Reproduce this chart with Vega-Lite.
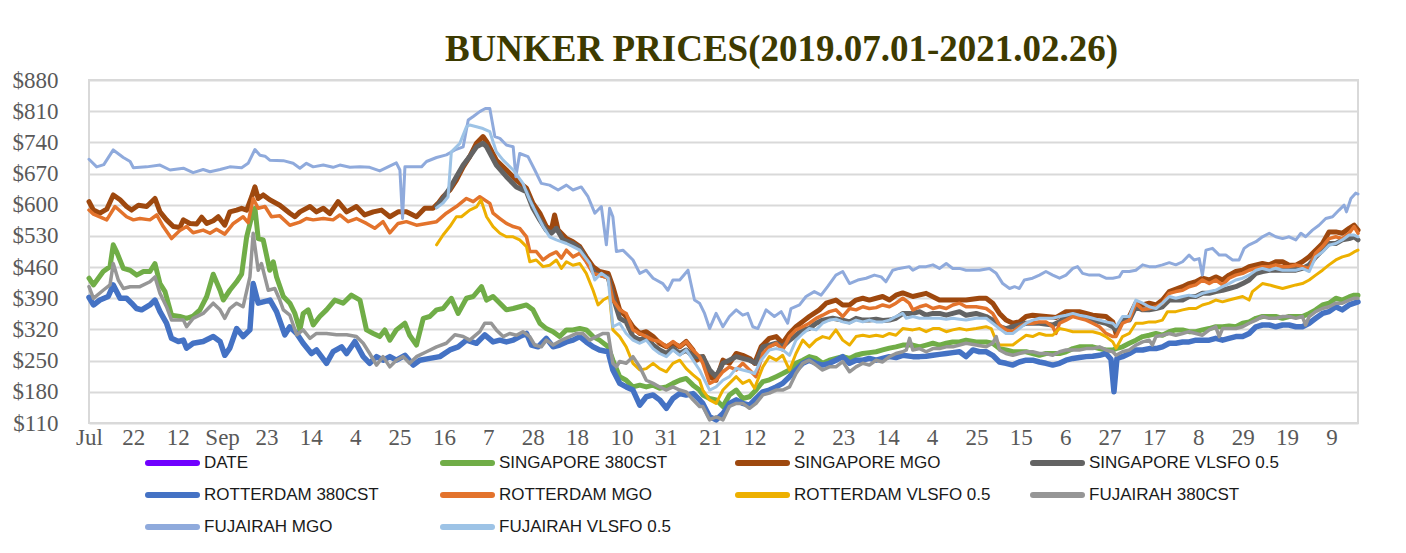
{
"$schema":"https://vega.github.io/schema/vega-lite/v6.json",
"width":1269,"height":343,
"autosize":{"type":"none"},
"padding":{"left":89,"top":80,"right":48,"bottom":130},
"background":"white",
"title":{"text":"BUNKER PRICES(2019.07.01-2021.02.26)","font":"Liberation Serif","fontSize":37,"fontWeight":"bold","color":"#3d3a00","anchor":"middle","frame":"group","dx":58,"dy":47,"offset":18,"baseline":"alphabetic"},
"config":{"view":{"stroke":"#d9d9d9","strokeWidth":2},"axis":{"labelFont":"Liberation Serif","labelFontSize":23,"labelColor":"#595959","ticks":false,"domain":false,"title":null}},
"encoding":{
"x":{"field":"i","type":"quantitative","scale":{"domain":[0,429],"nice":false,"zero":false},"axis":{"grid":false,"values":[0,15,30,45,60,75,90,105,120,135,150,165,180,195,210,225,240,255,270,285,300,315,330,345,360,375,390,405,420],"labelExpr":"['Jul','22','12','Sep','23','14','4','25','16','7','28','18','10','31','21','12','2','23','14','4','25','15','6','27','17','8','29','19','9'][round(datum.value/15)]","labelOverlap":false,"labelFlush":false,"labelPadding":3}},
"y":{"field":"v","type":"quantitative","scale":{"domain":[110,880],"nice":false,"zero":false},"axis":{"grid":true,"gridColor":"#d9d9d9","gridWidth":2,"values":[110,180,250,320,390,460,530,600,670,740,810,880],"labelExpr":"'$' + datum.value","labelPadding":31}}
},
"layer":[
{"data":{"values":[{"i":0,"v":435},{"i":1.5,"v":420},{"i":4.8,"v":450},{"i":7.1,"v":461},{"i":8.2,"v":510},{"i":9.3,"v":495},{"i":11.6,"v":457},{"i":13.9,"v":453},{"i":16.1,"v":442},{"i":18.4,"v":450},{"i":20.6,"v":450},{"i":22.3,"v":468},{"i":24,"v":423},{"i":25.7,"v":405},{"i":27.9,"v":352},{"i":30.7,"v":349},{"i":33,"v":345},{"i":35.2,"v":350},{"i":37.5,"v":364},{"i":39.8,"v":394},{"i":42,"v":444},{"i":44.3,"v":408},{"i":45.4,"v":386},{"i":47.6,"v":408},{"i":49.9,"v":427},{"i":51.6,"v":444},{"i":53.3,"v":528},{"i":55,"v":573},{"i":56.1,"v":592},{"i":57.2,"v":524},{"i":58.9,"v":521},{"i":61.1,"v":453},{"i":62.3,"v":472},{"i":63.4,"v":438},{"i":65.7,"v":394},{"i":67.9,"v":379},{"i":69.6,"v":356},{"i":71.3,"v":319},{"i":72.4,"v":356},{"i":74.1,"v":364},{"i":75.8,"v":330},{"i":78,"v":349},{"i":80.3,"v":364},{"i":83.1,"v":386},{"i":85.9,"v":379},{"i":88.7,"v":397},{"i":91.6,"v":386},{"i":93.8,"v":319},{"i":96.1,"v":311},{"i":98.3,"v":304},{"i":100,"v":319},{"i":101.7,"v":296},{"i":103.9,"v":319},{"i":106.8,"v":334},{"i":108.4,"v":307},{"i":110.7,"v":285},{"i":113,"v":345},{"i":115.2,"v":349},{"i":117.5,"v":364},{"i":119.7,"v":367},{"i":122.5,"v":390},{"i":124.8,"v":356},{"i":127.6,"v":390},{"i":129.9,"v":394},{"i":132.7,"v":416},{"i":134.4,"v":386},{"i":136.6,"v":394},{"i":138.9,"v":379},{"i":141.1,"v":364},{"i":143.4,"v":367},{"i":145.6,"v":371},{"i":147.9,"v":375},{"i":150.1,"v":364},{"i":152.4,"v":334},{"i":154.6,"v":322},{"i":156.9,"v":315},{"i":159.1,"v":304},{"i":161.4,"v":319},{"i":163.6,"v":319},{"i":165.9,"v":322},{"i":168.1,"v":319},{"i":170.4,"v":304},{"i":172.6,"v":296},{"i":175.5,"v":281},{"i":177.1,"v":251},{"i":179.4,"v":214},{"i":181.6,"v":206},{"i":183.9,"v":191},{"i":186.2,"v":195},{"i":188.4,"v":191},{"i":190.7,"v":195},{"i":192.9,"v":188},{"i":195.2,"v":191},{"i":197.4,"v":199},{"i":199.7,"v":206},{"i":201.9,"v":210},{"i":204.2,"v":195},{"i":206.4,"v":184},{"i":207.5,"v":173},{"i":209.8,"v":165},{"i":212,"v":162},{"i":214.3,"v":147},{"i":216.5,"v":173},{"i":218.8,"v":184},{"i":221,"v":165},{"i":223.3,"v":169},{"i":225.5,"v":184},{"i":227.8,"v":203},{"i":230,"v":207},{"i":232.3,"v":214},{"i":234.5,"v":221},{"i":236.8,"v":229},{"i":239,"v":244},{"i":241.3,"v":251},{"i":243.5,"v":259},{"i":245.8,"v":255},{"i":248,"v":244},{"i":250.3,"v":251},{"i":252.5,"v":255},{"i":254.8,"v":259},{"i":257.1,"v":255},{"i":259.3,"v":262},{"i":261.6,"v":266},{"i":263.8,"v":268},{"i":266.1,"v":270},{"i":268.3,"v":274},{"i":270.6,"v":278},{"i":272.8,"v":281},{"i":275.1,"v":285},{"i":278.5,"v":285},{"i":280.8,"v":281},{"i":283,"v":285},{"i":285.3,"v":289},{"i":287.5,"v":285},{"i":289.8,"v":289},{"i":292,"v":292},{"i":294.3,"v":292},{"i":296.5,"v":296},{"i":299.9,"v":292},{"i":303.3,"v":292},{"i":305.5,"v":289},{"i":307.8,"v":277},{"i":310,"v":274},{"i":312.3,"v":270},{"i":316.8,"v":270},{"i":319,"v":266},{"i":321.3,"v":262},{"i":323.5,"v":266},{"i":328.1,"v":266},{"i":330.3,"v":270},{"i":332.6,"v":277},{"i":334.8,"v":281},{"i":339.3,"v":281},{"i":341.6,"v":277},{"i":343.8,"v":274},{"i":346.1,"v":274},{"i":347.2,"v":277},{"i":349.4,"v":281},{"i":351.7,"v":289},{"i":353.9,"v":296},{"i":356.2,"v":304},{"i":358.4,"v":307},{"i":360.7,"v":311},{"i":362.9,"v":307},{"i":365.2,"v":315},{"i":367.4,"v":319},{"i":369.7,"v":319},{"i":371.9,"v":315},{"i":374.2,"v":315},{"i":376.4,"v":319},{"i":378.7,"v":322},{"i":380.9,"v":326},{"i":383.2,"v":326},{"i":385.4,"v":328},{"i":387.7,"v":326},{"i":390,"v":334},{"i":392.2,"v":337},{"i":394.5,"v":345},{"i":396.7,"v":349},{"i":399,"v":349},{"i":401.2,"v":349},{"i":403.5,"v":345},{"i":405.7,"v":349},{"i":408,"v":349},{"i":410.2,"v":349},{"i":412.5,"v":356},{"i":414.7,"v":364},{"i":417,"v":375},{"i":419.2,"v":379},{"i":421.5,"v":390},{"i":423.7,"v":386},{"i":426,"v":393},{"i":427.7,"v":397},{"i":429,"v":397}]},
"mark":{"type":"line","strokeWidth":5,"strokeJoin":"round","strokeCap":"round"},
"encoding":{"color":{"datum":"SINGAPORE 380CST","scale":{"domain":["DATE","SINGAPORE 380CST","SINGAPORE MGO","SINGAPORE VLSFO 0.5","ROTTERDAM 380CST","ROTTERDAM MGO","ROTTERDAM VLSFO 0.5","FUJAIRAH  380CST","FUJAIRAH MGO","FUJAIRAH VLSFO 0.5"],"range":["#7000ff","#70ad47","#9e480e","#636363","#4472c4","#e3732c","#edb000","#969696","#8faadc","#9dc3e6"]},"legend":{"orient":"none","legendX":56,"legendY":373,"direction":"horizontal","columns":4,"symbolType":"stroke","symbolSize":2401,"symbolStrokeWidth":6,"clipHeight":20,"labelFont":"Liberation Sans","labelFontSize":17,"labelColor":"#1a1a1a","labelOffset":4,"columnPadding":39,"rowPadding":12,"gridAlign":"all","title":null,"labelLimit":400,"padding":0,"symbolOpacity":1,"encode":{"symbols":{"update":{"strokeCap":{"value":"round"}}}}}}}},
{"data":{"values":[{"i":0,"v":607},{"i":1.5,"v":588},{"i":3.7,"v":581},{"i":6,"v":590},{"i":8.2,"v":622},{"i":10.5,"v":611},{"i":12.7,"v":596},{"i":14.4,"v":588},{"i":16.7,"v":599},{"i":19.5,"v":596},{"i":22.3,"v":614},{"i":24,"v":584},{"i":26.2,"v":566},{"i":28.5,"v":551},{"i":30.7,"v":549},{"i":31.9,"v":566},{"i":34.1,"v":558},{"i":36.4,"v":557},{"i":38.1,"v":572},{"i":39.8,"v":558},{"i":42,"v":564},{"i":43.7,"v":573},{"i":45.9,"v":554},{"i":47.6,"v":584},{"i":49.9,"v":588},{"i":51.6,"v":592},{"i":53.3,"v":588},{"i":55,"v":618},{"i":56.1,"v":640},{"i":57.2,"v":614},{"i":58.9,"v":622},{"i":61.1,"v":611},{"i":64.5,"v":599},{"i":67.9,"v":581},{"i":69.6,"v":573},{"i":71.3,"v":584},{"i":74.7,"v":596},{"i":76.9,"v":584},{"i":79.2,"v":592},{"i":81.4,"v":580},{"i":84.2,"v":607},{"i":87.1,"v":584},{"i":90.4,"v":596},{"i":93.2,"v":577},{"i":96.1,"v":584},{"i":98.9,"v":588},{"i":101.7,"v":573},{"i":104.5,"v":584},{"i":107.3,"v":584},{"i":110.7,"v":573},{"i":113.5,"v":592},{"i":116.3,"v":592},{"i":118,"v":603},{"i":119.7,"v":618},{"i":122,"v":633},{"i":124.2,"v":655},{"i":126.5,"v":685},{"i":128.7,"v":708},{"i":131,"v":738},{"i":133.2,"v":753},{"i":134.4,"v":742},{"i":137.7,"v":700},{"i":141.1,"v":678},{"i":144.5,"v":655},{"i":147.9,"v":637},{"i":150.1,"v":603},{"i":152.4,"v":581},{"i":154.6,"v":551},{"i":156.3,"v":543},{"i":157.4,"v":577},{"i":158.6,"v":543},{"i":161.4,"v":524},{"i":163.6,"v":517},{"i":165.9,"v":506},{"i":168.1,"v":483},{"i":170.4,"v":461},{"i":172.6,"v":450},{"i":175.5,"v":446},{"i":177.1,"v":416},{"i":179.4,"v":364},{"i":181.6,"v":349},{"i":183.9,"v":326},{"i":186.2,"v":311},{"i":188.4,"v":315},{"i":190.7,"v":304},{"i":192.9,"v":289},{"i":195.2,"v":281},{"i":197.4,"v":289},{"i":199.7,"v":281},{"i":201.9,"v":293},{"i":204.2,"v":274},{"i":205.3,"v":251},{"i":207.5,"v":259},{"i":209.8,"v":214},{"i":212,"v":206},{"i":214.3,"v":251},{"i":216.5,"v":244},{"i":218.8,"v":266},{"i":221,"v":262},{"i":223.3,"v":255},{"i":225,"v":244},{"i":227.2,"v":281},{"i":230,"v":300},{"i":232.3,"v":304},{"i":234.5,"v":289},{"i":236.8,"v":311},{"i":239,"v":326},{"i":241.9,"v":341},{"i":243.5,"v":349},{"i":246.9,"v":364},{"i":249.2,"v":379},{"i":252.5,"v":386},{"i":254.8,"v":375},{"i":257.1,"v":375},{"i":259.3,"v":386},{"i":261.6,"v":390},{"i":263.8,"v":386},{"i":266.1,"v":390},{"i":268.3,"v":394},{"i":270.6,"v":386},{"i":272.8,"v":397},{"i":275.1,"v":402},{"i":278.5,"v":394},{"i":283,"v":401},{"i":287.5,"v":386},{"i":292,"v":386},{"i":296.5,"v":386},{"i":301,"v":390},{"i":303.3,"v":390},{"i":305.5,"v":379},{"i":307.8,"v":356},{"i":310,"v":341},{"i":312.3,"v":334},{"i":314.5,"v":337},{"i":316.8,"v":349},{"i":319,"v":352},{"i":323.5,"v":349},{"i":327,"v":347},{"i":330.3,"v":360},{"i":334.8,"v":360},{"i":339.3,"v":352},{"i":343.8,"v":349},{"i":346.1,"v":337},{"i":347.2,"v":311},{"i":349.4,"v":341},{"i":351.7,"v":349},{"i":353.9,"v":379},{"i":356.2,"v":375},{"i":358.4,"v":379},{"i":360.7,"v":375},{"i":362.9,"v":386},{"i":365.2,"v":405},{"i":369.7,"v":416},{"i":371.9,"v":423},{"i":374.2,"v":427},{"i":376.4,"v":435},{"i":378.7,"v":431},{"i":380.9,"v":438},{"i":383.2,"v":431},{"i":385.4,"v":442},{"i":387.7,"v":450},{"i":390,"v":453},{"i":392.2,"v":461},{"i":396.7,"v":468},{"i":399,"v":465},{"i":401.2,"v":472},{"i":403.5,"v":472},{"i":405.7,"v":464},{"i":408,"v":464},{"i":410.2,"v":472},{"i":412.5,"v":483},{"i":414.7,"v":498},{"i":417,"v":513},{"i":419.2,"v":539},{"i":421.5,"v":539},{"i":423.7,"v":536},{"i":426,"v":547},{"i":427.7,"v":554},{"i":429,"v":543}]},
"mark":{"type":"line","strokeWidth":5,"strokeJoin":"round","strokeCap":"round"},
"encoding":{"color":{"datum":"SINGAPORE MGO"}}},
{"data":{"values":[{"i":117.5,"v":596},{"i":119.7,"v":614},{"i":122,"v":637},{"i":124.2,"v":663},{"i":126.5,"v":689},{"i":128.7,"v":708},{"i":131,"v":730},{"i":133.2,"v":738},{"i":134.4,"v":730},{"i":137.7,"v":689},{"i":141.1,"v":663},{"i":144.5,"v":640},{"i":147.9,"v":629},{"i":150.1,"v":592},{"i":152.4,"v":566},{"i":154.6,"v":543},{"i":156.3,"v":536},{"i":158,"v":547},{"i":160.3,"v":521},{"i":163.6,"v":513},{"i":165.9,"v":502},{"i":168.1,"v":476},{"i":171,"v":446},{"i":173.2,"v":442},{"i":175.5,"v":438},{"i":177.1,"v":394},{"i":179.4,"v":345},{"i":181.6,"v":337},{"i":183.9,"v":304},{"i":186.2,"v":296},{"i":188.4,"v":304},{"i":190.7,"v":285},{"i":192.9,"v":274},{"i":195.2,"v":266},{"i":197.4,"v":278},{"i":199.7,"v":266},{"i":201.9,"v":274},{"i":204.2,"v":259},{"i":205.3,"v":259},{"i":207.5,"v":259},{"i":209.8,"v":229},{"i":212,"v":214},{"i":214.3,"v":244},{"i":216.5,"v":251},{"i":218.8,"v":259},{"i":221,"v":255},{"i":223.3,"v":251},{"i":225.5,"v":244},{"i":227.8,"v":281},{"i":230,"v":285},{"i":232.3,"v":289},{"i":234.5,"v":281},{"i":236.8,"v":296},{"i":239,"v":307},{"i":241.3,"v":319},{"i":243.5,"v":322},{"i":245.8,"v":334},{"i":248,"v":341},{"i":251.4,"v":345},{"i":254.8,"v":341},{"i":257.1,"v":337},{"i":259.3,"v":345},{"i":261.6,"v":341},{"i":263.8,"v":341},{"i":266.1,"v":343},{"i":268.3,"v":340},{"i":270.6,"v":341},{"i":272.8,"v":345},{"i":275.1,"v":356},{"i":278.5,"v":356},{"i":280.8,"v":360},{"i":283,"v":352},{"i":285.3,"v":356},{"i":287.5,"v":356},{"i":289.8,"v":352},{"i":292,"v":356},{"i":294.3,"v":360},{"i":296.5,"v":352},{"i":299.9,"v":356},{"i":303.3,"v":349},{"i":305.5,"v":341},{"i":307.8,"v":326},{"i":310,"v":322},{"i":312.3,"v":326},{"i":314.5,"v":330},{"i":316.8,"v":334},{"i":321.3,"v":334},{"i":325.8,"v":330},{"i":328.1,"v":337},{"i":330.3,"v":349},{"i":332.6,"v":352},{"i":334.8,"v":349},{"i":337.1,"v":345},{"i":339.3,"v":341},{"i":341.6,"v":337},{"i":343.8,"v":334},{"i":346.1,"v":326},{"i":347.2,"v":319},{"i":349.4,"v":341},{"i":351.7,"v":341},{"i":353.9,"v":371},{"i":356.2,"v":364},{"i":358.4,"v":364},{"i":360.7,"v":367},{"i":362.9,"v":371},{"i":365.2,"v":386},{"i":369.7,"v":386},{"i":371.9,"v":394},{"i":374.2,"v":394},{"i":376.4,"v":401},{"i":378.7,"v":401},{"i":380.9,"v":405},{"i":383.2,"v":408},{"i":385.4,"v":412},{"i":387.7,"v":416},{"i":390,"v":423},{"i":392.2,"v":431},{"i":394.5,"v":446},{"i":396.7,"v":450},{"i":399,"v":453},{"i":403.5,"v":453},{"i":408,"v":453},{"i":410.2,"v":457},{"i":412.5,"v":465},{"i":414.7,"v":483},{"i":417,"v":498},{"i":419.2,"v":513},{"i":421.5,"v":513},{"i":423.7,"v":521},{"i":426,"v":524},{"i":427.7,"v":528},{"i":429,"v":521}]},
"mark":{"type":"line","strokeWidth":5,"strokeJoin":"round","strokeCap":"round"},
"encoding":{"color":{"datum":"SINGAPORE VLSFO 0.5"}}},
{"data":{"values":[{"i":0,"v":392},{"i":1.5,"v":375},{"i":3.7,"v":386},{"i":6.5,"v":394},{"i":8.2,"v":420},{"i":10.5,"v":390},{"i":12.7,"v":390},{"i":14.4,"v":379},{"i":16.1,"v":367},{"i":17.8,"v":364},{"i":20.6,"v":375},{"i":22.3,"v":386},{"i":24,"v":360},{"i":26.2,"v":334},{"i":27.9,"v":300},{"i":30.2,"v":293},{"i":31.9,"v":296},{"i":33,"v":278},{"i":35.2,"v":289},{"i":38.6,"v":293},{"i":42,"v":304},{"i":44.3,"v":293},{"i":45.9,"v":262},{"i":47.6,"v":278},{"i":49.9,"v":322},{"i":52.1,"v":304},{"i":54.4,"v":319},{"i":55.5,"v":423},{"i":57.2,"v":379},{"i":58.9,"v":382},{"i":61.2,"v":386},{"i":63.4,"v":360},{"i":66.2,"v":308},{"i":67.9,"v":326},{"i":70.2,"v":311},{"i":72.4,"v":289},{"i":75.2,"v":266},{"i":76.9,"v":274},{"i":80.3,"v":244},{"i":82.5,"v":270},{"i":85.4,"v":281},{"i":87.1,"v":266},{"i":89.9,"v":293},{"i":92.7,"v":259},{"i":94.9,"v":244},{"i":97.2,"v":259},{"i":99.4,"v":251},{"i":101.7,"v":259},{"i":103.9,"v":251},{"i":106.8,"v":262},{"i":109.6,"v":240},{"i":111.8,"v":251},{"i":115.2,"v":255},{"i":118.6,"v":259},{"i":122,"v":274},{"i":124.8,"v":281},{"i":127.6,"v":296},{"i":131,"v":289},{"i":133.8,"v":308},{"i":136.6,"v":292},{"i":138.9,"v":296},{"i":141.1,"v":292},{"i":143.4,"v":296},{"i":145.6,"v":304},{"i":147.9,"v":311},{"i":149.6,"v":285},{"i":151.8,"v":281},{"i":154.6,"v":300},{"i":156.9,"v":281},{"i":159.1,"v":285},{"i":161.4,"v":292},{"i":163.6,"v":296},{"i":165.9,"v":304},{"i":168.1,"v":292},{"i":170.4,"v":281},{"i":172.6,"v":274},{"i":175.5,"v":270},{"i":177.1,"v":229},{"i":179.4,"v":199},{"i":181.6,"v":191},{"i":183.9,"v":184},{"i":186.2,"v":150},{"i":188.4,"v":169},{"i":190.7,"v":173},{"i":192.9,"v":162},{"i":195.2,"v":143},{"i":197.4,"v":165},{"i":199.7,"v":176},{"i":201.9,"v":173},{"i":204.2,"v":176},{"i":206.4,"v":162},{"i":207.5,"v":154},{"i":209.8,"v":124},{"i":212,"v":117},{"i":214.3,"v":131},{"i":216.5,"v":154},{"i":218.8,"v":162},{"i":221,"v":154},{"i":223.3,"v":150},{"i":225.5,"v":165},{"i":227.8,"v":180},{"i":230,"v":184},{"i":232.3,"v":191},{"i":234.5,"v":199},{"i":236.8,"v":214},{"i":239,"v":229},{"i":241.3,"v":244},{"i":243.5,"v":251},{"i":245.8,"v":244},{"i":248,"v":240},{"i":250.3,"v":244},{"i":252.5,"v":251},{"i":254.8,"v":259},{"i":257.1,"v":244},{"i":259.3,"v":251},{"i":261.6,"v":251},{"i":263.8,"v":255},{"i":266.1,"v":251},{"i":268.3,"v":255},{"i":270.6,"v":259},{"i":272.8,"v":257},{"i":275.1,"v":262},{"i":278.5,"v":259},{"i":280.8,"v":259},{"i":283,"v":260},{"i":285.3,"v":262},{"i":287.5,"v":264},{"i":289.8,"v":266},{"i":292,"v":268},{"i":294.3,"v":270},{"i":296.5,"v":259},{"i":298.8,"v":274},{"i":301,"v":270},{"i":303.3,"v":270},{"i":305.5,"v":262},{"i":307.8,"v":247},{"i":310,"v":244},{"i":312.3,"v":240},{"i":314.5,"v":247},{"i":316.8,"v":251},{"i":319,"v":251},{"i":321.3,"v":247},{"i":323.5,"v":244},{"i":325.8,"v":240},{"i":328.1,"v":244},{"i":330.3,"v":251},{"i":332.6,"v":255},{"i":334.8,"v":257},{"i":337.1,"v":259},{"i":339.3,"v":260},{"i":341.6,"v":262},{"i":343.8,"v":266},{"i":345.5,"v":253},{"i":346.5,"v":180},{"i":347.5,"v":255},{"i":349.4,"v":259},{"i":351.7,"v":266},{"i":353.9,"v":274},{"i":356.2,"v":274},{"i":358.4,"v":277},{"i":360.7,"v":277},{"i":362.9,"v":281},{"i":365.2,"v":289},{"i":367.4,"v":289},{"i":369.7,"v":292},{"i":371.9,"v":292},{"i":374.2,"v":296},{"i":376.4,"v":296},{"i":378.7,"v":296},{"i":380.9,"v":300},{"i":383.2,"v":296},{"i":385.4,"v":300},{"i":387.7,"v":304},{"i":390,"v":304},{"i":392.2,"v":311},{"i":394.5,"v":326},{"i":396.7,"v":330},{"i":399,"v":330},{"i":401.2,"v":326},{"i":403.5,"v":330},{"i":405.7,"v":330},{"i":408,"v":326},{"i":410.2,"v":326},{"i":412.5,"v":334},{"i":414.7,"v":345},{"i":417,"v":356},{"i":419.2,"v":360},{"i":421.5,"v":371},{"i":423.7,"v":364},{"i":426,"v":375},{"i":427.7,"v":379},{"i":429,"v":382}]},
"mark":{"type":"line","strokeWidth":5.5,"strokeJoin":"round","strokeCap":"round"},
"encoding":{"color":{"datum":"ROTTERDAM 380CST"}}},
{"data":{"values":[{"i":0,"v":588},{"i":1.5,"v":579},{"i":6,"v":566},{"i":8.8,"v":596},{"i":12.7,"v":573},{"i":15,"v":566},{"i":17.2,"v":569},{"i":20.6,"v":566},{"i":22.9,"v":577},{"i":25.1,"v":551},{"i":27.9,"v":524},{"i":30.7,"v":542},{"i":33,"v":551},{"i":35.2,"v":537},{"i":38.6,"v":543},{"i":40.9,"v":536},{"i":43.1,"v":545},{"i":45.9,"v":534},{"i":48.8,"v":558},{"i":52.1,"v":573},{"i":53.8,"v":560},{"i":55.5,"v":614},{"i":57.2,"v":592},{"i":59.5,"v":596},{"i":61.7,"v":573},{"i":64.5,"v":575},{"i":67.9,"v":554},{"i":71.3,"v":561},{"i":73.5,"v":569},{"i":75.8,"v":566},{"i":79.2,"v":569},{"i":82.5,"v":566},{"i":84.8,"v":577},{"i":87.6,"v":562},{"i":90.4,"v":569},{"i":93.8,"v":558},{"i":96.6,"v":547},{"i":99.4,"v":562},{"i":101.7,"v":537},{"i":104.5,"v":558},{"i":107.3,"v":562},{"i":110.7,"v":554},{"i":114.1,"v":558},{"i":117.5,"v":562},{"i":120.8,"v":581},{"i":124.2,"v":596},{"i":127.6,"v":614},{"i":129.9,"v":607},{"i":132.1,"v":618},{"i":135.5,"v":603},{"i":136.6,"v":581},{"i":138.9,"v":569},{"i":141.1,"v":558},{"i":143.4,"v":551},{"i":145.6,"v":547},{"i":147.9,"v":528},{"i":149,"v":495},{"i":151.2,"v":495},{"i":153.5,"v":476},{"i":155.7,"v":487},{"i":158,"v":494},{"i":159.7,"v":480},{"i":161.4,"v":498},{"i":163.6,"v":483},{"i":165.9,"v":491},{"i":168.1,"v":472},{"i":170.4,"v":446},{"i":172.6,"v":442},{"i":175.5,"v":435},{"i":177.1,"v":386},{"i":179.4,"v":364},{"i":181.6,"v":356},{"i":183.9,"v":319},{"i":186.2,"v":311},{"i":188.4,"v":304},{"i":190.7,"v":296},{"i":192.9,"v":293},{"i":195.2,"v":281},{"i":197.4,"v":293},{"i":199.7,"v":281},{"i":201.9,"v":293},{"i":204.2,"v":274},{"i":206.4,"v":259},{"i":207.5,"v":244},{"i":209.8,"v":199},{"i":212,"v":206},{"i":214.3,"v":225},{"i":216.5,"v":236},{"i":218.8,"v":229},{"i":221,"v":244},{"i":223.3,"v":229},{"i":225.5,"v":214},{"i":227.8,"v":266},{"i":230,"v":281},{"i":232.3,"v":289},{"i":234.5,"v":274},{"i":236.8,"v":304},{"i":239,"v":319},{"i":241.3,"v":326},{"i":243.5,"v":334},{"i":245.8,"v":345},{"i":248,"v":352},{"i":250.3,"v":360},{"i":252.5,"v":364},{"i":254.8,"v":349},{"i":257.1,"v":367},{"i":259.3,"v":364},{"i":261.6,"v":371},{"i":263.8,"v":367},{"i":266.1,"v":369},{"i":268.3,"v":375},{"i":270.6,"v":371},{"i":272.8,"v":379},{"i":275.1,"v":390},{"i":277.3,"v":379},{"i":278.5,"v":364},{"i":280.8,"v":371},{"i":283,"v":375},{"i":285.3,"v":367},{"i":287.5,"v":371},{"i":289.8,"v":367},{"i":292,"v":375},{"i":294.3,"v":379},{"i":296.5,"v":371},{"i":299.9,"v":371},{"i":303.3,"v":367},{"i":305.5,"v":356},{"i":307.8,"v":330},{"i":310,"v":319},{"i":312.3,"v":315},{"i":314.5,"v":326},{"i":316.8,"v":334},{"i":319,"v":334},{"i":321.3,"v":337},{"i":323.5,"v":337},{"i":325.8,"v":326},{"i":326.9,"v":311},{"i":328.1,"v":334},{"i":330.3,"v":341},{"i":332.6,"v":349},{"i":334.8,"v":345},{"i":337.1,"v":341},{"i":339.3,"v":334},{"i":341.6,"v":326},{"i":343.8,"v":311},{"i":346.1,"v":304},{"i":347.2,"v":304},{"i":349.4,"v":334},{"i":351.7,"v":341},{"i":353.9,"v":379},{"i":356.2,"v":364},{"i":358.4,"v":367},{"i":360.7,"v":371},{"i":362.9,"v":379},{"i":365.2,"v":401},{"i":367.4,"v":405},{"i":369.7,"v":408},{"i":371.9,"v":416},{"i":374.2,"v":420},{"i":376.4,"v":431},{"i":378.7,"v":423},{"i":380.9,"v":431},{"i":383.2,"v":420},{"i":385.4,"v":435},{"i":387.7,"v":442},{"i":390,"v":446},{"i":392.2,"v":453},{"i":394.5,"v":457},{"i":396.7,"v":461},{"i":399,"v":461},{"i":401.2,"v":465},{"i":403.5,"v":461},{"i":405.7,"v":461},{"i":408,"v":465},{"i":410.2,"v":461},{"i":412.5,"v":457},{"i":414.7,"v":491},{"i":417,"v":506},{"i":419.2,"v":524},{"i":421.5,"v":528},{"i":423.7,"v":524},{"i":426,"v":536},{"i":427.7,"v":551},{"i":429,"v":536}]},
"mark":{"type":"line","strokeWidth":3.5,"strokeJoin":"round","strokeCap":"round"},
"encoding":{"color":{"datum":"ROTTERDAM MGO"}}},
{"data":{"values":[{"i":117.5,"v":510},{"i":119.7,"v":532},{"i":122,"v":551},{"i":124.2,"v":573},{"i":125.9,"v":573},{"i":128.7,"v":588},{"i":131,"v":595},{"i":132.5,"v":611},{"i":134.4,"v":573},{"i":136.6,"v":551},{"i":138.9,"v":536},{"i":141.1,"v":528},{"i":143.4,"v":528},{"i":145.6,"v":521},{"i":147.9,"v":506},{"i":149,"v":472},{"i":151.2,"v":476},{"i":153.5,"v":461},{"i":155.7,"v":464},{"i":158,"v":476},{"i":159.7,"v":457},{"i":161.4,"v":472},{"i":163.6,"v":464},{"i":165.9,"v":468},{"i":168.1,"v":446},{"i":170.4,"v":408},{"i":172.1,"v":375},{"i":173.8,"v":386},{"i":176,"v":394},{"i":177.1,"v":319},{"i":179.4,"v":304},{"i":181.6,"v":281},{"i":183.9,"v":244},{"i":186.2,"v":229},{"i":188.4,"v":232},{"i":190.7,"v":244},{"i":192.9,"v":232},{"i":195.2,"v":225},{"i":197.4,"v":244},{"i":199.7,"v":251},{"i":201.9,"v":232},{"i":204.2,"v":218},{"i":206.4,"v":206},{"i":207.5,"v":184},{"i":209.8,"v":162},{"i":212,"v":154},{"i":214.3,"v":184},{"i":216.5,"v":199},{"i":218.8,"v":214},{"i":221,"v":199},{"i":223.3,"v":206},{"i":225,"v":188},{"i":227.8,"v":236},{"i":230,"v":259},{"i":232.3,"v":251},{"i":234.5,"v":262},{"i":236.8,"v":229},{"i":239,"v":266},{"i":241.3,"v":296},{"i":243.5,"v":281},{"i":245.8,"v":296},{"i":248,"v":304},{"i":250.3,"v":300},{"i":252.5,"v":319},{"i":254.8,"v":296},{"i":257.1,"v":285},{"i":259.3,"v":304},{"i":261.6,"v":307},{"i":263.8,"v":304},{"i":266.1,"v":307},{"i":268.3,"v":304},{"i":270.6,"v":311},{"i":272.8,"v":307},{"i":275.1,"v":322},{"i":278.5,"v":319},{"i":280.8,"v":322},{"i":283,"v":315},{"i":285.3,"v":322},{"i":287.5,"v":322},{"i":289.8,"v":315},{"i":292,"v":319},{"i":294.3,"v":322},{"i":296.5,"v":319},{"i":299.9,"v":322},{"i":303.3,"v":326},{"i":305,"v":322},{"i":306.1,"v":304},{"i":307.8,"v":285},{"i":310,"v":285},{"i":312.3,"v":285},{"i":314.5,"v":296},{"i":316.8,"v":307},{"i":319,"v":304},{"i":321.3,"v":311},{"i":323.5,"v":307},{"i":325.8,"v":307},{"i":328.1,"v":322},{"i":330.3,"v":319},{"i":332.6,"v":315},{"i":334.8,"v":315},{"i":337.1,"v":315},{"i":339.3,"v":315},{"i":341.6,"v":311},{"i":343.8,"v":304},{"i":346.1,"v":292},{"i":347.2,"v":278},{"i":349.4,"v":304},{"i":351.7,"v":311},{"i":353.9,"v":334},{"i":356.2,"v":334},{"i":358.4,"v":337},{"i":360.7,"v":337},{"i":362.9,"v":341},{"i":364.6,"v":360},{"i":367.4,"v":360},{"i":369.7,"v":364},{"i":371.9,"v":367},{"i":374.2,"v":367},{"i":376.4,"v":375},{"i":378.7,"v":379},{"i":380.9,"v":386},{"i":383.2,"v":382},{"i":385.4,"v":386},{"i":387.7,"v":390},{"i":390,"v":394},{"i":392.2,"v":386},{"i":393.3,"v":405},{"i":396.7,"v":423},{"i":399,"v":420},{"i":401.2,"v":416},{"i":403.5,"v":412},{"i":405.7,"v":416},{"i":408,"v":420},{"i":410.2,"v":423},{"i":412.5,"v":431},{"i":414.7,"v":442},{"i":417,"v":453},{"i":419.2,"v":465},{"i":421.5,"v":476},{"i":423.7,"v":483},{"i":426,"v":487},{"i":427.7,"v":494},{"i":429,"v":498}]},
"mark":{"type":"line","strokeWidth":3,"strokeJoin":"round","strokeCap":"round"},
"encoding":{"color":{"datum":"ROTTERDAM VLSFO 0.5"}}},
{"data":{"values":[{"i":0,"v":416},{"i":1.5,"v":390},{"i":4.8,"v":408},{"i":7.1,"v":420},{"i":8.2,"v":468},{"i":9.9,"v":431},{"i":11.6,"v":412},{"i":13.9,"v":416},{"i":17.2,"v":416},{"i":20.6,"v":427},{"i":22.3,"v":438},{"i":24,"v":401},{"i":26.2,"v":371},{"i":27.9,"v":341},{"i":31.9,"v":341},{"i":33,"v":326},{"i":35.2,"v":345},{"i":38.6,"v":356},{"i":42,"v":379},{"i":44.3,"v":364},{"i":45.9,"v":345},{"i":47.6,"v":367},{"i":49.9,"v":379},{"i":52.1,"v":371},{"i":54.4,"v":438},{"i":55.5,"v":536},{"i":57.2,"v":453},{"i":58.3,"v":468},{"i":60.6,"v":408},{"i":62.8,"v":412},{"i":64.5,"v":386},{"i":65.7,"v":364},{"i":67.9,"v":352},{"i":70.2,"v":308},{"i":72.4,"v":319},{"i":74.7,"v":300},{"i":76.9,"v":311},{"i":80.3,"v":311},{"i":83.7,"v":308},{"i":87.1,"v":308},{"i":90.4,"v":304},{"i":92.7,"v":289},{"i":94.9,"v":266},{"i":97.2,"v":240},{"i":99.4,"v":259},{"i":101.7,"v":236},{"i":103.9,"v":251},{"i":106.2,"v":259},{"i":108.4,"v":244},{"i":110.7,"v":259},{"i":114.1,"v":270},{"i":117.5,"v":281},{"i":120.8,"v":289},{"i":123.7,"v":308},{"i":126.5,"v":304},{"i":128.7,"v":296},{"i":132.1,"v":315},{"i":133.8,"v":334},{"i":136,"v":334},{"i":137.7,"v":319},{"i":140,"v":304},{"i":142.2,"v":311},{"i":144.5,"v":307},{"i":146.7,"v":315},{"i":149,"v":304},{"i":150.7,"v":285},{"i":152.9,"v":281},{"i":154.6,"v":296},{"i":156.9,"v":285},{"i":159.7,"v":296},{"i":162.5,"v":304},{"i":164.8,"v":311},{"i":167,"v":311},{"i":169.3,"v":296},{"i":171.5,"v":304},{"i":173.8,"v":311},{"i":175.5,"v":311},{"i":177.1,"v":244},{"i":178.3,"v":236},{"i":179.4,"v":248},{"i":181.6,"v":244},{"i":183.9,"v":259},{"i":186.2,"v":236},{"i":188.4,"v":206},{"i":190.7,"v":199},{"i":192.9,"v":191},{"i":195.2,"v":184},{"i":197.4,"v":191},{"i":199.7,"v":184},{"i":201.9,"v":180},{"i":204.2,"v":162},{"i":206.4,"v":147},{"i":207.5,"v":147},{"i":209.8,"v":117},{"i":212,"v":124},{"i":214.3,"v":117},{"i":216.5,"v":147},{"i":218.8,"v":154},{"i":221,"v":154},{"i":223.3,"v":143},{"i":225.5,"v":154},{"i":227.8,"v":173},{"i":230,"v":177},{"i":232.3,"v":184},{"i":234.5,"v":184},{"i":236.8,"v":191},{"i":239,"v":221},{"i":241.3,"v":244},{"i":243.5,"v":251},{"i":245.8,"v":240},{"i":248,"v":229},{"i":250.3,"v":236},{"i":252.5,"v":236},{"i":254.8,"v":248},{"i":257.1,"v":225},{"i":259.3,"v":236},{"i":261.6,"v":244},{"i":263.8,"v":240},{"i":266.1,"v":251},{"i":268.3,"v":247},{"i":270.6,"v":259},{"i":272.8,"v":266},{"i":275.1,"v":270},{"i":276.3,"v":274},{"i":277.4,"v":300},{"i":278.5,"v":274},{"i":280.8,"v":277},{"i":283,"v":270},{"i":285.3,"v":277},{"i":287.5,"v":277},{"i":289.8,"v":281},{"i":292,"v":281},{"i":294.3,"v":285},{"i":296.5,"v":289},{"i":299.9,"v":285},{"i":303.3,"v":281},{"i":305.5,"v":289},{"i":306.7,"v":304},{"i":307.8,"v":274},{"i":310,"v":266},{"i":312.3,"v":262},{"i":314.5,"v":266},{"i":316.8,"v":270},{"i":319,"v":270},{"i":321.3,"v":266},{"i":323.5,"v":266},{"i":325.8,"v":262},{"i":328.1,"v":270},{"i":330.3,"v":274},{"i":332.6,"v":274},{"i":334.8,"v":274},{"i":337.1,"v":277},{"i":339.3,"v":277},{"i":341.6,"v":281},{"i":343.8,"v":274},{"i":346.1,"v":270},{"i":347.2,"v":262},{"i":349.4,"v":270},{"i":351.7,"v":274},{"i":353.9,"v":285},{"i":356.2,"v":292},{"i":358.4,"v":296},{"i":359.5,"v":285},{"i":360.7,"v":304},{"i":362.9,"v":307},{"i":365.2,"v":311},{"i":367.4,"v":307},{"i":369.7,"v":311},{"i":371.9,"v":315},{"i":374.2,"v":311},{"i":376.4,"v":307},{"i":378.7,"v":319},{"i":380.9,"v":326},{"i":382.1,"v":304},{"i":383.2,"v":322},{"i":385.4,"v":322},{"i":387.7,"v":322},{"i":390,"v":326},{"i":392.2,"v":334},{"i":394.5,"v":341},{"i":396.7,"v":349},{"i":399,"v":345},{"i":401.2,"v":345},{"i":403.5,"v":349},{"i":405.7,"v":349},{"i":408,"v":345},{"i":410.2,"v":349},{"i":411.3,"v":330},{"i":412.5,"v":349},{"i":414.7,"v":360},{"i":417,"v":367},{"i":419.2,"v":371},{"i":421.5,"v":379},{"i":423.7,"v":379},{"i":426,"v":386},{"i":427.7,"v":390},{"i":429,"v":390}]},
"mark":{"type":"line","strokeWidth":3.5,"strokeJoin":"round","strokeCap":"round"},
"encoding":{"color":{"datum":"FUJAIRAH  380CST"}}},
{"data":{"values":[{"i":0,"v":702},{"i":2.6,"v":685},{"i":5,"v":690},{"i":8.2,"v":723},{"i":11.6,"v":706},{"i":13.9,"v":697},{"i":15,"v":683},{"i":19.5,"v":685},{"i":24,"v":689},{"i":27.4,"v":678},{"i":31.9,"v":682},{"i":35.2,"v":672},{"i":38.6,"v":679},{"i":40.9,"v":674},{"i":44.3,"v":679},{"i":47.6,"v":685},{"i":51.6,"v":683},{"i":53.8,"v":693},{"i":56.1,"v":724},{"i":57.8,"v":711},{"i":59.5,"v":709},{"i":61.1,"v":700},{"i":65.7,"v":699},{"i":69,"v":693},{"i":71.3,"v":682},{"i":73.5,"v":693},{"i":75.8,"v":685},{"i":79.2,"v":689},{"i":82.5,"v":684},{"i":84.8,"v":689},{"i":88.2,"v":684},{"i":91.6,"v":685},{"i":94.9,"v":684},{"i":98.3,"v":676},{"i":101.1,"v":685},{"i":103.9,"v":694},{"i":105.1,"v":678},{"i":106,"v":569},{"i":106.8,"v":685},{"i":109.6,"v":685},{"i":112.4,"v":685},{"i":114.1,"v":697},{"i":117.5,"v":706},{"i":120.8,"v":712},{"i":123.7,"v":723},{"i":126.5,"v":730},{"i":128.2,"v":790},{"i":129.9,"v":798},{"i":132.1,"v":809},{"i":134,"v":816},{"i":135.5,"v":816},{"i":137.2,"v":753},{"i":138.9,"v":749},{"i":141.1,"v":734},{"i":143.4,"v":730},{"i":144.3,"v":663},{"i":145.6,"v":715},{"i":148.4,"v":708},{"i":150.7,"v":678},{"i":152.9,"v":648},{"i":155.7,"v":644},{"i":158.6,"v":633},{"i":161.4,"v":644},{"i":163.6,"v":633},{"i":166.4,"v":640},{"i":168.7,"v":618},{"i":171,"v":581},{"i":173.2,"v":596},{"i":174.9,"v":510},{"i":176,"v":592},{"i":177.1,"v":573},{"i":178.3,"v":495},{"i":180.5,"v":498},{"i":183.9,"v":476},{"i":186.2,"v":446},{"i":188.4,"v":453},{"i":190.7,"v":435},{"i":194,"v":423},{"i":195.7,"v":408},{"i":197.4,"v":431},{"i":199.7,"v":431},{"i":202.5,"v":453},{"i":204.7,"v":386},{"i":206.4,"v":379},{"i":208.1,"v":356},{"i":209.8,"v":322},{"i":212,"v":356},{"i":214.3,"v":326},{"i":216.5,"v":349},{"i":218.8,"v":364},{"i":221,"v":352},{"i":222.7,"v":356},{"i":224.4,"v":326},{"i":226.1,"v":322},{"i":228.9,"v":364},{"i":231.7,"v":349},{"i":234,"v":360},{"i":236.2,"v":334},{"i":237.3,"v":367},{"i":240.2,"v":375},{"i":242.4,"v":394},{"i":245.2,"v":405},{"i":247.5,"v":397},{"i":249.7,"v":416},{"i":252.5,"v":442},{"i":254.8,"v":450},{"i":257.1,"v":423},{"i":259.9,"v":431},{"i":262.7,"v":435},{"i":265.5,"v":442},{"i":267.8,"v":438},{"i":269.4,"v":427},{"i":271.7,"v":453},{"i":273.9,"v":457},{"i":277.3,"v":461},{"i":278.5,"v":453},{"i":280.8,"v":461},{"i":283,"v":461},{"i":285.3,"v":465},{"i":287.5,"v":457},{"i":289.8,"v":468},{"i":292,"v":457},{"i":294.3,"v":457},{"i":296.5,"v":453},{"i":298.8,"v":453},{"i":301,"v":453},{"i":304.4,"v":457},{"i":306.7,"v":446},{"i":308.9,"v":423},{"i":311.2,"v":412},{"i":312.9,"v":416},{"i":314.5,"v":412},{"i":316.2,"v":431},{"i":319,"v":435},{"i":321.3,"v":442},{"i":323.5,"v":450},{"i":325.8,"v":442},{"i":328.1,"v":435},{"i":330.3,"v":442},{"i":332.6,"v":457},{"i":334.2,"v":461},{"i":335.9,"v":446},{"i":338.2,"v":442},{"i":341.6,"v":442},{"i":343.8,"v":435},{"i":346.1,"v":435},{"i":348.3,"v":438},{"i":349.4,"v":450},{"i":351.7,"v":450},{"i":353.9,"v":453},{"i":356.2,"v":465},{"i":358.4,"v":461},{"i":360.7,"v":461},{"i":362.9,"v":465},{"i":365.2,"v":470},{"i":367.4,"v":465},{"i":369.7,"v":472},{"i":371.9,"v":487},{"i":373.6,"v":476},{"i":375.3,"v":479},{"i":376.4,"v":442},{"i":377.6,"v":498},{"i":379.8,"v":502},{"i":382.1,"v":487},{"i":384.3,"v":487},{"i":386.6,"v":476},{"i":388.8,"v":476},{"i":390.5,"v":502},{"i":392.2,"v":510},{"i":394.5,"v":517},{"i":396.7,"v":528},{"i":399,"v":536},{"i":401.2,"v":528},{"i":403.5,"v":524},{"i":405.7,"v":528},{"i":408,"v":521},{"i":409.7,"v":536},{"i":411.3,"v":528},{"i":413.6,"v":543},{"i":415.8,"v":554},{"i":418.1,"v":569},{"i":420.4,"v":573},{"i":422.6,"v":588},{"i":424.3,"v":599},{"i":425.1,"v":584},{"i":426.6,"v":614},{"i":428.2,"v":626},{"i":429,"v":624}]},
"mark":{"type":"line","strokeWidth":3,"strokeJoin":"round","strokeCap":"round"},
"encoding":{"color":{"datum":"FUJAIRAH MGO"}}},
{"data":{"values":[{"i":117.5,"v":593},{"i":119.7,"v":604},{"i":121.4,"v":618},{"i":122.5,"v":719},{"i":125.3,"v":737},{"i":127.6,"v":775},{"i":128.7,"v":779},{"i":131,"v":775},{"i":133.2,"v":771},{"i":135.5,"v":764},{"i":137.7,"v":719},{"i":140,"v":700},{"i":143.4,"v":678},{"i":146.7,"v":648},{"i":149,"v":611},{"i":151.2,"v":581},{"i":153.5,"v":551},{"i":155.7,"v":528},{"i":158,"v":521},{"i":161.4,"v":513},{"i":163.6,"v":506},{"i":165.9,"v":498},{"i":169.3,"v":468},{"i":171,"v":431},{"i":173.2,"v":446},{"i":175.5,"v":435},{"i":177.1,"v":326},{"i":179.4,"v":334},{"i":181.6,"v":311},{"i":183.9,"v":296},{"i":186.2,"v":289},{"i":188.4,"v":296},{"i":190.7,"v":277},{"i":192.9,"v":266},{"i":195.2,"v":259},{"i":197.4,"v":274},{"i":199.7,"v":262},{"i":201.9,"v":274},{"i":204.2,"v":251},{"i":206.4,"v":229},{"i":207.5,"v":214},{"i":209.8,"v":184},{"i":212,"v":191},{"i":214.3,"v":206},{"i":216.5,"v":214},{"i":218.8,"v":233},{"i":221,"v":229},{"i":223.3,"v":225},{"i":225,"v":221},{"i":227.2,"v":251},{"i":230,"v":274},{"i":232.3,"v":277},{"i":234.5,"v":274},{"i":236.8,"v":262},{"i":239,"v":296},{"i":241.3,"v":311},{"i":243.5,"v":322},{"i":245.8,"v":319},{"i":248,"v":334},{"i":250.3,"v":341},{"i":252.5,"v":343},{"i":254.8,"v":337},{"i":257.1,"v":334},{"i":259.3,"v":341},{"i":261.6,"v":337},{"i":263.8,"v":341},{"i":266.1,"v":337},{"i":268.3,"v":337},{"i":270.6,"v":341},{"i":272.8,"v":349},{"i":275.1,"v":356},{"i":276.3,"v":345},{"i":278.5,"v":349},{"i":280.8,"v":345},{"i":283,"v":345},{"i":285.3,"v":345},{"i":287.5,"v":345},{"i":289.8,"v":343},{"i":292,"v":345},{"i":294.3,"v":343},{"i":296.5,"v":341},{"i":299.9,"v":345},{"i":303.3,"v":345},{"i":305.5,"v":334},{"i":307.8,"v":322},{"i":310,"v":311},{"i":312.3,"v":311},{"i":314.5,"v":322},{"i":316.8,"v":334},{"i":319,"v":341},{"i":321.3,"v":345},{"i":323.5,"v":345},{"i":325.8,"v":345},{"i":328.1,"v":349},{"i":330.3,"v":352},{"i":332.6,"v":356},{"i":334.8,"v":352},{"i":337.1,"v":349},{"i":339.3,"v":345},{"i":341.6,"v":341},{"i":343.8,"v":337},{"i":346.1,"v":334},{"i":347.2,"v":326},{"i":349.4,"v":349},{"i":351.7,"v":349},{"i":353.9,"v":386},{"i":356.2,"v":379},{"i":358.4,"v":371},{"i":360.7,"v":367},{"i":362.9,"v":379},{"i":365.2,"v":394},{"i":367.4,"v":390},{"i":369.7,"v":394},{"i":371.9,"v":397},{"i":374.2,"v":394},{"i":376.4,"v":401},{"i":378.7,"v":405},{"i":380.9,"v":408},{"i":383.2,"v":416},{"i":385.4,"v":423},{"i":387.7,"v":431},{"i":390,"v":435},{"i":392.2,"v":442},{"i":394.5,"v":453},{"i":396.7,"v":457},{"i":399,"v":453},{"i":401.2,"v":457},{"i":403.5,"v":453},{"i":405.7,"v":453},{"i":408,"v":453},{"i":410.2,"v":457},{"i":412.5,"v":450},{"i":414.7,"v":483},{"i":417,"v":494},{"i":419.2,"v":509},{"i":421.5,"v":513},{"i":423.7,"v":521},{"i":426,"v":532},{"i":427.7,"v":532},{"i":429,"v":528}]},
"mark":{"type":"line","strokeWidth":3,"strokeJoin":"round","strokeCap":"round"},
"encoding":{"color":{"datum":"FUJAIRAH VLSFO 0.5"}}}
]
}
